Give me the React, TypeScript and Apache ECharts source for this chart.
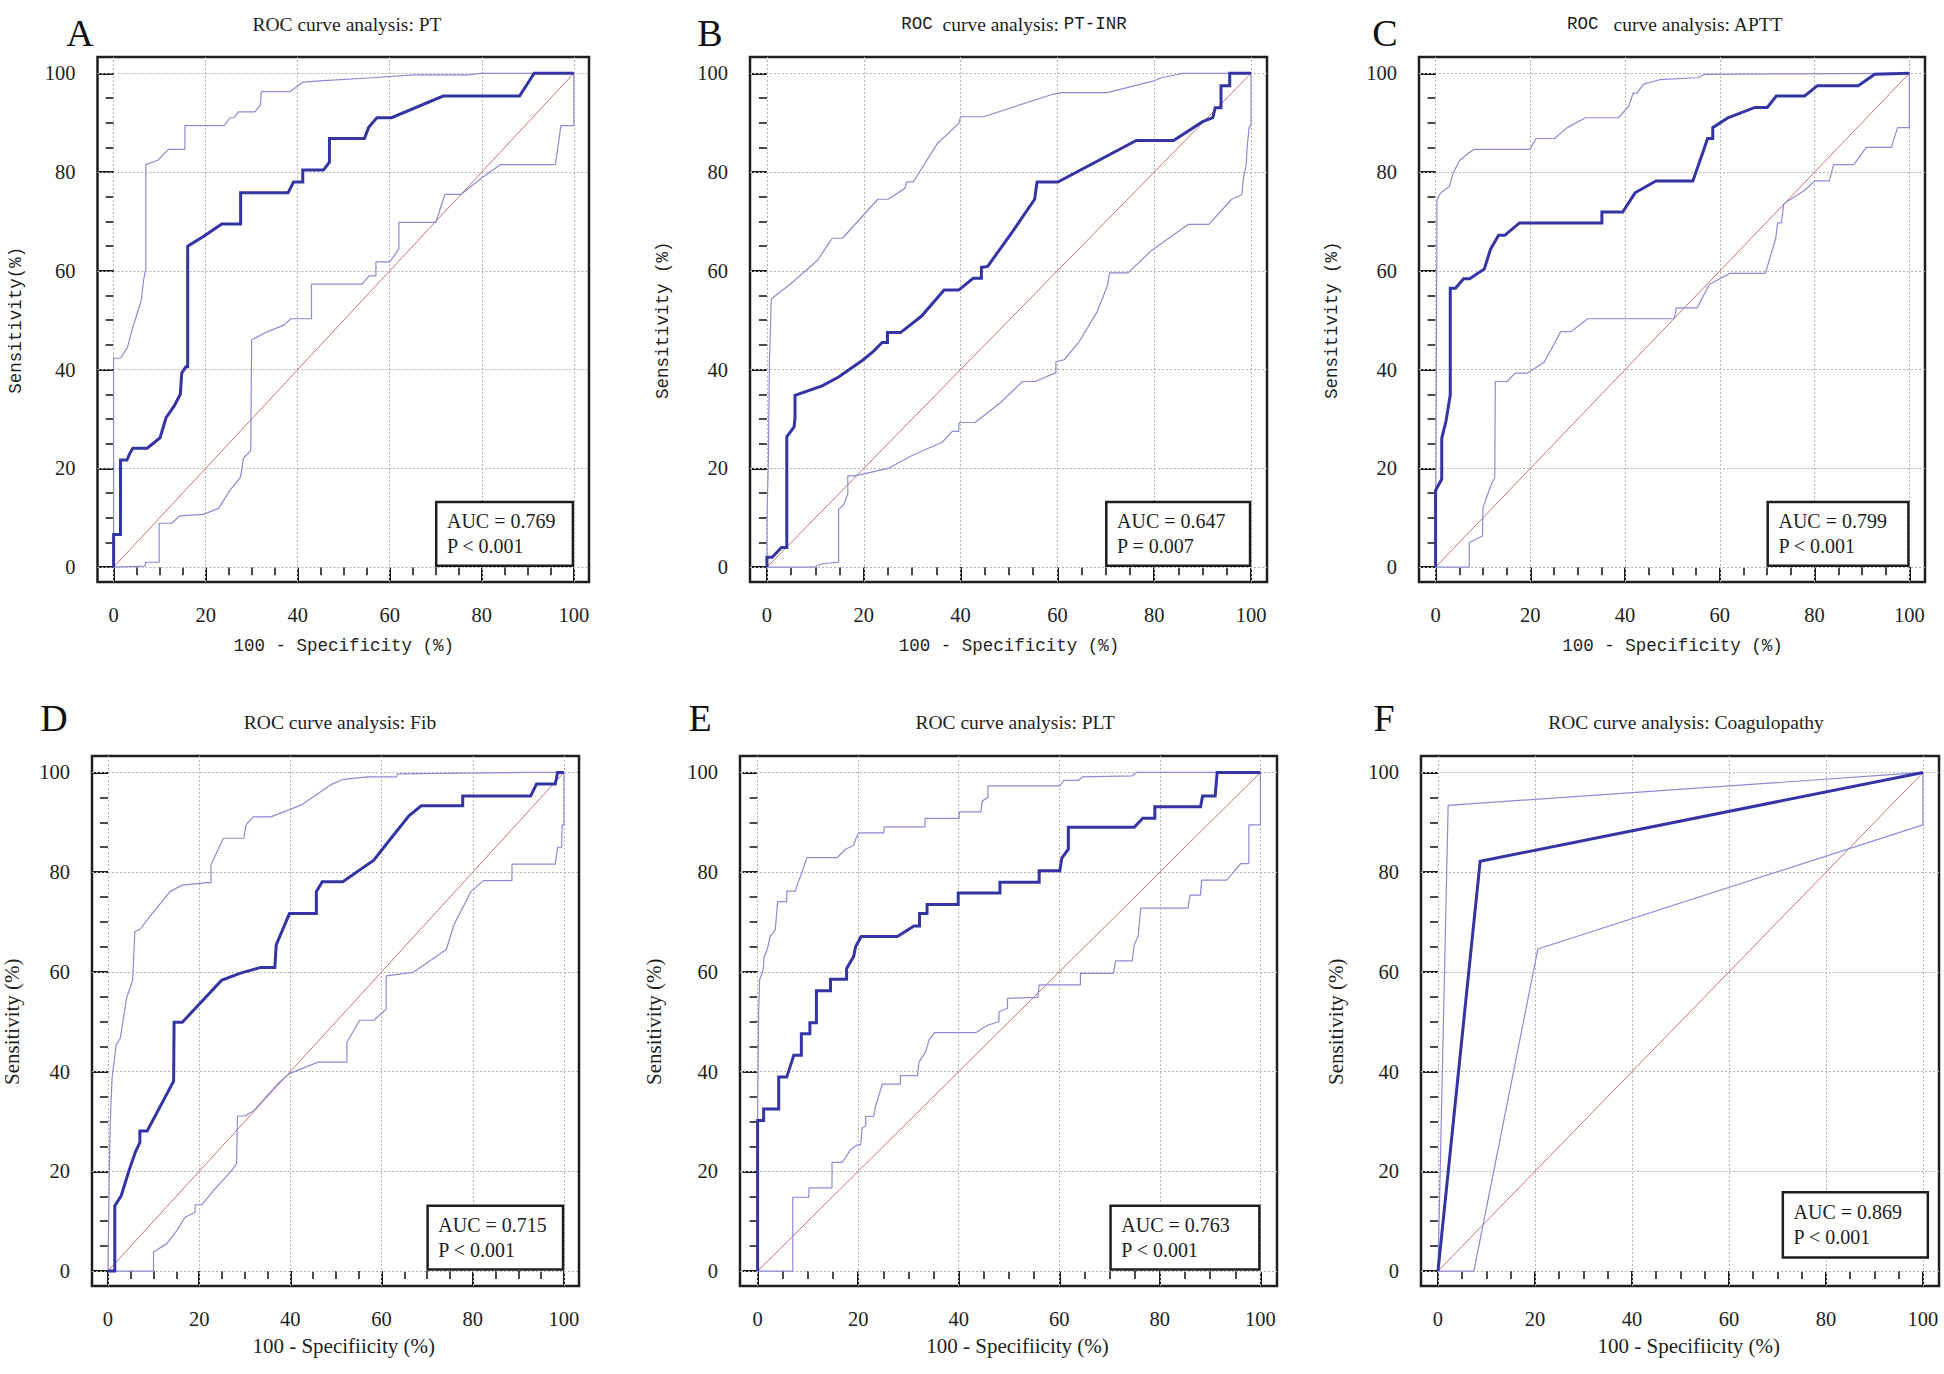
import React, { useEffect, useRef } from "react";
import * as echarts from "echarts";

type Pt = [number, number];

// ---------- data ----------
const panelLetters = ["A", "B", "C", "D", "E", "F"];
const aucValues = ["0.769", "0.647", "0.799", "0.715", "0.763", "0.869"];
const pValues = ["P < 0.001", "P = 0.007", "P < 0.001", "P < 0.001", "P < 0.001", "P < 0.001"];
const majorTicks = [0, 20, 40, 60, 80, 100];
const minorTicks = [0, 5, 10, 15, 20, 25, 30, 35, 40, 45, 50, 55, 60, 65, 70, 75, 80, 85, 90, 95, 100];
const gridValues = [0, 20, 40, 60, 80, 100];
const diagonal: Pt[] = [[0, 0], [100, 100]];

// A: PT
const ptRoc: Pt[] = [[0,0],[0,6.6],[1.5,6.6],[1.5,21.7],[2.9,21.7],[3.5,23],[4.2,24.1],[7.3,24.1],[10.1,26.2],[11.4,30.3],[13.2,32.7],[14.5,35],[14.8,39.3],[15.7,40.6],[16.1,40.6],[16.1,65],[19.6,67],[23.5,69.5],[27.6,69.5],[27.6,75.8],[37.9,75.8],[39.1,78],[41.1,78],[41.1,80.4],[45.6,80.4],[46.9,82],[46.9,86.8],[54.5,86.8],[55.4,89],[57.2,91],[60.4,91],[71.6,95.4],[88.2,95.4],[91.4,100],[100,100]];
const ptUpper: Pt[] = [[0,0],[0,42.3],[1.5,42.3],[3,44.5],[4,48],[5,51],[6,54],[6.5,58],[7,60.5],[7,81.5],[9.6,82.4],[11.9,84.6],[15.5,84.6],[15.5,89.4],[24,89.4],[25.3,91],[26.2,91],[27.1,92.2],[30.7,92.2],[31.9,93.6],[32.1,96.3],[38.4,96.3],[41.1,98.2],[45.6,98.5],[56.3,99.1],[65.3,99.7],[77,99.7],[79.7,100],[100,100]];
const ptLower: Pt[] = [[0,0],[6.8,0.2],[7,1],[9.9,1],[9.9,8.9],[12.6,8.9],[14.4,10.4],[19.5,10.7],[22.8,11.9],[25.3,15.6],[27.6,18.3],[28.2,22],[29.8,23.6],[30,46],[33,47.5],[37,49],[38.5,50.3],[43,50.3],[43,57.3],[54,57.3],[55.5,59],[57,59],[57,61.8],[60,61.8],[62,64.5],[62,69.8],[70,69.8],[72,75.5],[75.5,75.5],[80,78.8],[84,81.5],[96,81.5],[97.2,89.4],[100,89.4],[100,100]];

// B: PT-INR
const inrRoc: Pt[] = [[0,0],[0,2],[1.1,2],[3,4],[4.1,4],[4.1,26.4],[5.6,28.4],[5.8,30.1],[5.8,34.8],[11.4,36.7],[14.8,38.5],[19.9,42],[22.1,43.8],[23.8,45.5],[24.9,45.5],[24.9,47.5],[27.6,47.5],[31.9,50.8],[36.6,56.1],[39.6,56.1],[42.6,58.5],[44.3,58.5],[44.3,60.7],[45.6,60.9],[50.7,67.9],[55.3,74.5],[55.8,78],[60.1,78],[76.3,86.4],[84,86.4],[90,90.2],[92.1,91],[92.6,93],[93.8,93],[93.8,97.5],[95.6,97.5],[95.6,100],[100,100]];
const inrUpper: Pt[] = [[0,0],[0,10],[0.3,21.8],[0.5,41],[0.9,54.3],[5.4,57.8],[10.5,62.2],[12.2,64.7],[13.5,66.6],[15.6,66.6],[22.9,74.5],[25,74.5],[28.5,76.7],[28.9,78],[30.2,78],[35.3,85.9],[39.6,89.8],[40,91.2],[44.7,91.2],[59.2,95.8],[60.9,96.1],[70.3,96.1],[79.7,98.4],[81.5,99.1],[84,99.6],[85.7,100],[100,100]];
const inrLower: Pt[] = [[0,0],[9.7,0],[11.4,0.7],[14.8,1],[14.8,11.7],[15.8,12.6],[16.7,14.8],[16.7,18.5],[18.2,18.5],[25,20],[30.2,22.7],[36.2,25.3],[38.3,27.5],[39.6,27.5],[39.7,29.3],[43,29.3],[48.1,33.2],[52.8,37.6],[55.4,37.6],[59.7,39.4],[59.7,41.6],[61.4,42],[64.4,45.5],[68.2,51.7],[70.3,56.9],[70.8,59.6],[74.6,59.6],[79.3,64],[87,69.4],[91.3,69.4],[96,74.5],[98.1,75.4],[98.4,78.5],[99,81.5],[99.2,85],[99.6,89],[100,89.5],[100,100]];

// C: APTT
const apttRoc: Pt[] = [[0,0],[0,15.6],[1.3,17.8],[1.3,26.1],[2.2,29.6],[3.1,34.9],[3.1,56.5],[4.2,56.5],[5.9,58.4],[7.2,58.4],[10.3,60.4],[11.6,64.4],[13.3,67.2],[14.6,67.2],[17.7,69.7],[35.1,69.7],[35.1,71.9],[39.5,71.9],[42.1,75.8],[46.5,78.2],[54.3,78.2],[56.5,84.2],[57.4,86.8],[58.5,86.8],[58.5,89],[61.7,91],[67.4,93.1],[70,93.1],[71.9,95.4],[77.9,95.4],[80.6,97.5],[89.2,97.5],[92.7,99.8],[100,100]];
const apttUpper: Pt[] = [[0,0],[0.3,74.5],[1.1,75.8],[2.9,77.1],[3.7,79.8],[5.1,82.4],[6.8,83.7],[8.1,84.6],[19.9,84.6],[21.2,86.8],[25.1,86.8],[27.8,89],[31.6,91],[38.6,91],[40.8,93.4],[41.7,96],[42.5,96],[43.9,97.8],[47.3,98.7],[55.2,99.1],[56.9,99.8],[100,100]];
const apttLower: Pt[] = [[0,0],[7.1,0],[7.1,5],[9.9,6.3],[10,12],[11.6,16.4],[12.5,18.2],[12.6,37.6],[15.1,37.6],[16.8,39.3],[19.4,39.3],[22.9,41.5],[24.7,44.6],[26.4,47.7],[28.6,47.7],[32.1,50.3],[50.4,50.3],[50.8,52.5],[55.2,52.5],[57.8,57.3],[62.2,59.5],[69.6,59.5],[71.8,66.6],[72.2,69.7],[73,69.7],[73.5,73.6],[77.9,76.3],[80,78.2],[83.1,78.2],[84,81.5],[88.3,81.5],[90.9,85],[96.2,85],[97.5,89],[100,89],[100,100]];

// D: Fib
const fibRoc: Pt[] = [[0,0],[1.5,0],[1.5,13.1],[2.9,15.1],[4.6,20.1],[6,23.8],[7,25.8],[7,28.1],[8.6,28.1],[14.4,38.1],[14.5,49.9],[16.3,49.9],[19.9,53.4],[24.9,58.3],[28.9,59.7],[33.5,60.9],[36.6,60.9],[36.9,65.4],[39.8,71.7],[45.7,71.7],[45.7,76.1],[47,78.1],[51.5,78.1],[58.3,82.4],[60.6,85.1],[66,91.3],[68.7,93.3],[77.8,93.3],[77.8,95.3],[92.7,95.3],[94,97.7],[98.1,97.7],[98.6,100],[100,100]];
const fibUpper: Pt[] = [[0,0],[0.3,20],[0.5,29.8],[0.9,38.7],[1.8,45.4],[2.7,46.7],[4.1,54.8],[5.4,58.3],[5.9,68.1],[7.1,68.6],[9,70.9],[13.6,76.1],[16.3,77.4],[21.7,77.9],[22.6,77.9],[22.6,81.5],[25.3,86.8],[29.8,86.8],[30.3,89.5],[31.8,91.1],[35.7,91.1],[42.5,93.5],[48.8,97.5],[51.5,98.6],[57,99.1],[63.3,99.1],[63.5,99.7],[92.2,100],[100,100]];
const fibLower: Pt[] = [[0,0],[10,0],[10,3.8],[12.9,5.5],[15.1,8.1],[16.9,10.8],[19.1,11.8],[19.1,13.3],[20.6,13.3],[23.1,16.1],[26.8,19.8],[28.2,21.5],[28.4,31.1],[30,31.1],[31.9,32.1],[37.1,37.4],[39.8,39.6],[46.1,41.9],[52.4,41.9],[52.4,45.9],[55.2,50.3],[58.3,50.3],[61,52.5],[61,59.2],[66.9,59.9],[74.2,64.5],[75.9,69.5],[79.6,76.1],[82.3,78.3],[88.6,78.3],[88.6,81.6],[98.1,81.6],[98.6,85],[99.5,85],[99.6,89.5],[100,89.5],[100,100]];

// E: PLT
const pltRoc: Pt[] = [[0,0],[0,30.2],[1.2,30.2],[1.2,32.5],[4.2,32.5],[4.2,38.9],[5.8,38.9],[7.2,43.3],[8.7,43.3],[8.7,47.6],[10.4,47.6],[10.4,49.8],[11.7,49.8],[11.7,56.2],[14.5,56.2],[14.5,58.5],[17.7,58.5],[17.7,60.7],[19.1,63.1],[19.5,65.1],[20.6,67.1],[27.8,67.1],[31.1,69.2],[32.2,69.2],[32.2,71.7],[33.7,71.7],[33.7,73.5],[39.9,73.5],[39.9,75.8],[48.2,75.8],[48.2,78],[56,78],[56,80.3],[60.1,80.3],[60.5,82.8],[61.8,84.6],[61.8,89],[74.9,89],[76.6,90.8],[79,90.8],[79,93.1],[88.1,93.1],[88.5,95.3],[91,95.3],[91.4,100],[100,100]];
const pltUpper: Pt[] = [[0,0],[0,30],[0.2,51.6],[0.4,58.4],[1.1,60.4],[1.3,63.1],[1.9,64.4],[2.5,67.1],[3.5,68.4],[4,74.1],[5.8,74.1],[5.8,76.2],[7.5,76.2],[8,77.8],[8.8,79.9],[9.8,82.9],[15.8,82.9],[17.5,84.6],[19.1,85.4],[19.5,86.6],[20.1,87.9],[25.1,87.9],[25.2,89.1],[33.3,89.1],[33.3,90.8],[40.1,90.8],[40.1,92.1],[44.4,92.1],[44.7,94.3],[45.8,95],[45.8,97.3],[60.1,97.3],[60.9,98.4],[63.8,98.4],[64.6,99.1],[74.5,99.3],[75.3,100],[100,100]];
const pltLower: Pt[] = [[0,0],[7,0],[7,14.8],[10.2,14.8],[10.2,16.7],[14.8,16.7],[14.8,21.8],[16.8,21.8],[17.7,23.1],[18.5,24.4],[19.8,25.3],[20.5,25.3],[20.8,28.8],[21.5,29.1],[21.5,31],[23.1,31],[23.5,33.2],[24.8,37.5],[28.4,37.5],[28.4,39.2],[31.8,39.2],[32.1,41.9],[33.4,43.9],[34.1,46.3],[35.2,47.8],[43.4,47.8],[45.7,49.3],[48,50],[48,52],[49.7,52.7],[49.7,54.7],[55.7,54.9],[56,57.4],[64.2,57.4],[64.2,59.7],[70.8,59.7],[71.2,62.2],[74.5,62.2],[74.9,65.4],[75.7,67.2],[76.2,72.8],[85.6,72.8],[86,75.4],[88.1,75.4],[88.3,78.4],[93.3,78.4],[96.1,81.7],[97.7,81.7],[97.7,89.5],[100,89.5],[100,100]];

// F: Coagulopathy
const coagRoc: Pt[] = [[0,0],[8.7,82.2],[100,100]];
const coagUpper: Pt[] = [[0,0],[2.1,93.4],[100,100]];
const coagLower: Pt[] = [[0,0],[7.4,0],[20.6,64.6],[100,89.5],[100,100]];

const rocCurves = [ptRoc, inrRoc, apttRoc, fibRoc, pltRoc, coagRoc];
const upperCurves = [ptUpper, inrUpper, apttUpper, fibUpper, pltUpper, coagUpper];
const lowerCurves = [ptLower, inrLower, apttLower, fibLower, pltLower, coagLower];

const titles = [
  "ROC curve analysis: PT",
  "{m|ROC}  curve analysis: {m|PT-INR}",
  "{m|ROC}   curve analysis: APTT",
  "ROC curve analysis: Fib",
  "ROC curve analysis: PLT",
  "ROC curve analysis: Coagulopathy",
];
const yNames = ["Sensitivity(%)", "Sensitivity (%)", "Sensitivity (%)", "Sensitivity (%)", "Sensitivity (%)", "Sensitivity (%)"];
const xNames = [
  "100 - Specificity (%)",
  "100 - Specificity (%)",
  "100 - Specificity (%)",
  "100 - Specifiicity (%)",
  "100 - Specifiicity (%)",
  "100 - Specifiicity (%)",
];

// ---------- layout / style ----------
const W = 1944;
const H = 1374;
const X_MIN = -3.5;
const X_MAX = 103.3;
const Y_MIN = -3;
const Y_MAX = 103.3;
const SERIF = "Liberation Serif";
const MONO = "Liberation Mono";
const INK = "#1e1e1e";
const MAIN = "#3434a4";
const CI = "#8c8cd4";
const DIAG = "#c87474";
const GRIDC = "#b4b4b4";

const layouts = [
  { left: 97.5, top: 57, width: 491.5, height: 525, letterX: 80, letterY: 33, titleX: 347, titleY: 24, xNameY: 646, yNameX: 16, mono: true, xNameAt: 50, box: [[70.1, 13.2], [99.8, 0.3]] },
  { left: 750, top: 57, width: 517, height: 525, letterX: 710, letterY: 33, titleX: 1014, titleY: 24, xNameY: 646, yNameX: 662.5, mono: true, xNameAt: 50, box: [[70.1, 13.2], [99.8, 0.3]] },
  { left: 1419, top: 57, width: 506, height: 525, letterX: 1385, letterY: 33, titleX: 1675, titleY: 24, xNameY: 646, yNameX: 1332, mono: true, xNameAt: 50, box: [[70.1, 13.2], [99.8, 0.3]] },
  { left: 92, top: 756, width: 487, height: 530, letterX: 54, letterY: 718, titleX: 340, titleY: 722, xNameY: 1346, yNameX: 12, mono: false, xNameAt: 51.7, box: [[70.1, 13.1], [99.8, 0.3]] },
  { left: 740, top: 756, width: 537, height: 530, letterX: 700, letterY: 718, titleX: 1015, titleY: 722, xNameY: 1346, yNameX: 654, mono: false, xNameAt: 51.7, box: [[70.2, 13.1], [99.8, 0.3]] },
  { left: 1421, top: 756, width: 518, height: 530, letterX: 1384, letterY: 718, titleX: 1686, titleY: 722, xNameY: 1346, yNameX: 1336, mono: false, xNameAt: 51.7, box: [[71.1, 15.8], [101, 2.7]] },
];

function buildOption() {
  const grid: any[] = [];
  const xAxis: any[] = [];
  const yAxis: any[] = [];
  const series: any[] = [];
  const graphic: any[] = [];

  layouts.forEach((L, i) => {
    grid.push({
      left: L.left,
      top: L.top,
      width: L.width,
      height: L.height,
      show: true,
      backgroundColor: "#ffffff",
      borderColor: INK,
      borderWidth: 2.5,
      containLabel: false,
      outerBoundsMode: "none",
    });

    const labelStyle = { color: INK, fontFamily: SERIF, fontSize: 20.5 };
    xAxis.push({
      gridIndex: i, type: "value", min: X_MIN, max: X_MAX, position: "bottom",
      axisLine: { show: false },
      axisTick: { show: true, inside: false, length: 14, lineStyle: { color: INK, width: 2 }, customValues: majorTicks },
      axisLabel: { show: true, margin: 22, customValues: majorTicks, ...labelStyle },
      splitLine: { show: false },
    });
    xAxis.push({
      gridIndex: i, type: "value", min: X_MIN, max: X_MAX, position: "bottom",
      axisLine: { show: false },
      axisTick: { show: true, inside: false, length: 8, lineStyle: { color: INK, width: 1.6 }, customValues: minorTicks },
      axisLabel: { show: false },
      splitLine: { show: false },
    });
    yAxis.push({
      gridIndex: i, type: "value", min: Y_MIN, max: Y_MAX, position: "left",
      axisLine: { show: false },
      axisTick: { show: true, inside: false, length: 15, lineStyle: { color: INK, width: 2 }, customValues: majorTicks },
      axisLabel: { show: true, margin: 22, customValues: majorTicks, ...labelStyle },
      splitLine: { show: false },
    });
    yAxis.push({
      gridIndex: i, type: "value", min: Y_MIN, max: Y_MAX, position: "left",
      axisLine: { show: false },
      axisTick: { show: true, inside: false, length: 8, lineStyle: { color: INK, width: 1.6 }, customValues: minorTicks },
      axisLabel: { show: false },
      splitLine: { show: false },
    });

    const xi = 2 * i;
    const yi = 2 * i;

    series.push({
      type: "line", xAxisIndex: xi, yAxisIndex: yi, data: diagonal, symbol: "none", silent: true, z: 2,
      lineStyle: { color: DIAG, width: 1 },
      markLine: {
        silent: true, symbol: ["none", "none"], label: { show: false }, animation: false, z: 1,
        lineStyle: { color: GRIDC, width: 1, type: [2, 2] },
        emphasis: { disabled: true },
        data: [...gridValues.map((v) => ({ xAxis: v })), ...gridValues.map((v) => ({ yAxis: v }))],
      },
    });
    series.push({
      type: "line", xAxisIndex: xi, yAxisIndex: yi, data: upperCurves[i], symbol: "none", silent: true, z: 3,
      lineStyle: { color: CI, width: 1.2 },
    });
    series.push({
      type: "line", xAxisIndex: xi, yAxisIndex: yi, data: lowerCurves[i], symbol: "none", silent: true, z: 3,
      lineStyle: { color: CI, width: 1.2 },
    });
    series.push({
      type: "line", xAxisIndex: xi, yAxisIndex: yi, data: rocCurves[i], symbol: "none", silent: true, z: 4,
      lineStyle: { color: MAIN, width: 3, join: "miter" },
    });
    series.push({
      type: "line", xAxisIndex: xi, yAxisIndex: yi, data: [], symbol: "none", silent: true, z: 10,
      markArea: {
        silent: true, z: 20,
        itemStyle: { color: "#ffffff", borderColor: INK, borderWidth: 2.5 },
        label: {
          show: true, position: "insideLeft", distance: 12,
          color: INK, fontFamily: SERIF, fontSize: 20, lineHeight: 25,
          formatter: `AUC = ${aucValues[i]}\n${pValues[i]}`,
        },
        emphasis: { disabled: true },
        data: [[{ coord: L.box[0] }, { coord: L.box[1] }]],
      },
    });

    const xPix = (v: number) => L.left + ((v - X_MIN) / (X_MAX - X_MIN)) * L.width;
    const yPix = (v: number) => L.top + ((Y_MAX - v) / (Y_MAX - Y_MIN)) * L.height;

    graphic.push({
      type: "text", x: L.letterX, y: L.letterY, silent: true,
      style: { text: panelLetters[i], fill: "#111", fontFamily: SERIF, fontSize: 38, textAlign: "center", textVerticalAlign: "middle", align: "center", verticalAlign: "middle" },
    });
    graphic.push({
      type: "text", x: L.titleX, y: L.titleY, silent: true,
      style: {
        text: titles[i], fill: INK, fontFamily: SERIF, fontSize: 19.5,
        textAlign: "center", textVerticalAlign: "middle", align: "center", verticalAlign: "middle",
        rich: { m: { fontFamily: MONO, fontSize: 17.5, fill: INK } },
      },
    });
    const nameFont = L.mono ? { fontFamily: MONO, fontSize: 17.5 } : { fontFamily: SERIF, fontSize: 21 };
    graphic.push({
      type: "text", x: xPix(L.xNameAt), y: L.xNameY, silent: true,
      style: { text: xNames[i], fill: INK, ...nameFont, textAlign: "center", textVerticalAlign: "middle", align: "center", verticalAlign: "middle" },
    });
    graphic.push({
      type: "text", x: L.yNameX, y: yPix(50), rotation: Math.PI / 2, silent: true,
      style: { text: yNames[i], fill: INK, ...nameFont, textAlign: "center", textVerticalAlign: "middle", align: "center", verticalAlign: "middle" },
    });
  });

  return {
    animation: false,
    backgroundColor: "#ffffff",
    grid,
    xAxis,
    yAxis,
    series,
    graphic: { elements: graphic },
  };
}

export default function App() {
  const ref = useRef<HTMLDivElement>(null);
  useEffect(() => {
    if (!ref.current) return;
    const chart = echarts.init(ref.current, null, { renderer: "svg", width: W, height: H });
    chart.setOption(buildOption() as any);
    return () => chart.dispose();
  }, []);
  return (
    <div
      ref={ref}
      style={{ position: "absolute", left: 0, top: 0, width: W, height: H, background: "#fff" }}
    />
  );
}
